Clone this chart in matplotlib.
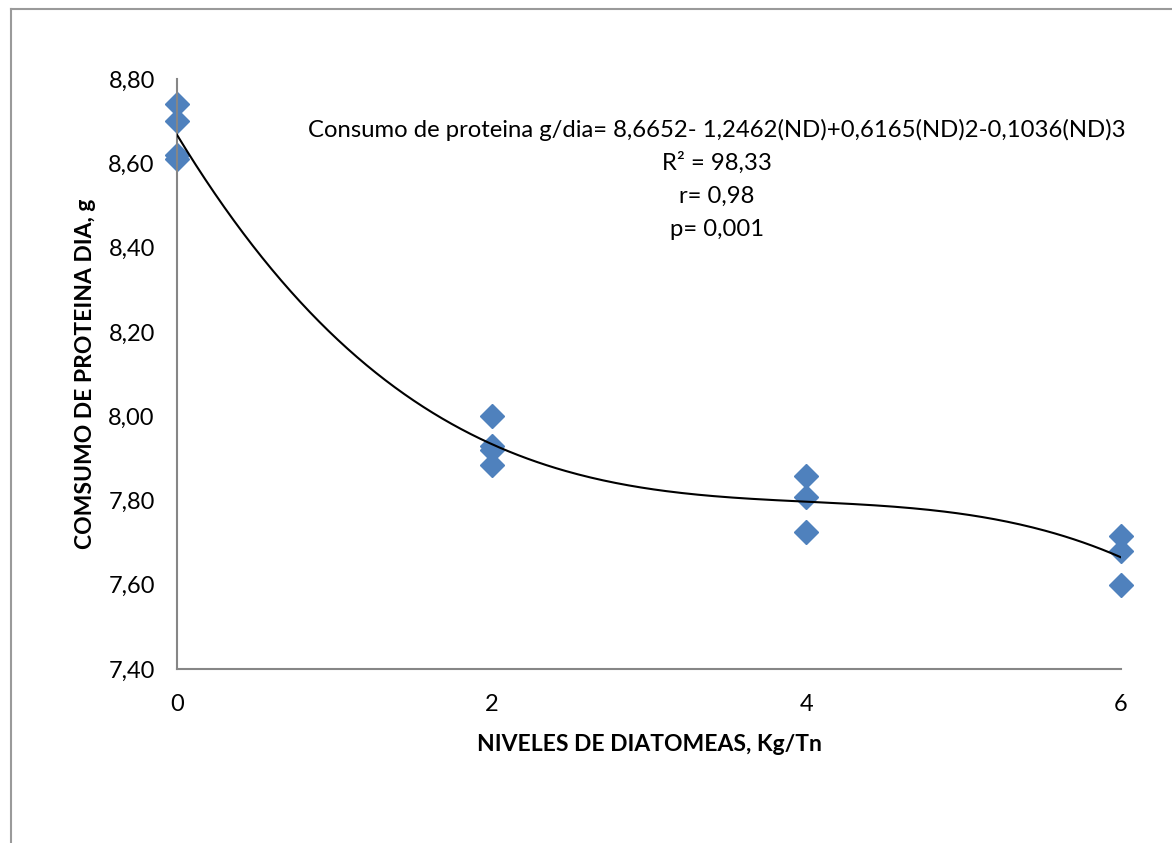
import numpy as np
import matplotlib.pyplot as plt
from matplotlib.lines import Line2D
from matplotlib.ticker import FuncFormatter

plt.rcParams['font.family'] = ['Lato', 'DejaVu Sans']

# Consumo de proteina por nivel de diatomeas
niveles = [0, 0, 0, 0, 2, 2, 2, 2, 4, 4, 4, 6, 6, 6]
consumo = [8.74, 8.70, 8.62, 8.61,
           8.00, 7.93, 7.92, 7.885,
           7.858, 7.808, 7.725,
           7.715, 7.68, 7.60]

y_ticks = [7.40, 7.60, 7.80, 8.00, 8.20, 8.40, 8.60, 8.80]
x_ticks = [0, 2, 4, 6]

eq_lines = ["Consumo de proteina g/dia= 8,6652- 1,2462(ND)+0,6165(ND)2-0,1036(ND)3",
            "R² = 98,33",
            "r= 0,98",
            "p= 0,001"]

W, H = 1172, 843
fig = plt.figure(figsize=(W / 100, H / 100), dpi=100)
ax = fig.add_axes([177 / W, 1 - 669 / H, (1121 - 177) / W, (669 - 79) / H])

# tendencia polinomica de grado 3
coef = np.polyfit(niveles, consumo, 3)
xs = np.linspace(0, 6, 300)
ax.plot(xs, np.polyval(coef, xs), color='black', lw=1.5, zorder=3)

ax.plot(niveles, consumo, linestyle='none', marker='D', markersize=12,
        color='#4F81BD', markeredgecolor='#4F81BD', zorder=2, clip_on=False)

ax.set_xlim(0, 6)
ax.set_ylim(7.40, 8.80)
ax.set_xticks(x_ticks)
ax.set_yticks(y_ticks)
ax.yaxis.set_major_formatter(FuncFormatter(lambda v, p: f"{v:.2f}".replace('.', ',')))
ax.tick_params(length=0, labelsize=17)
ax.tick_params(axis='y', pad=16)
ax.tick_params(axis='x', pad=18)

for s in ['top', 'right']:
    ax.spines[s].set_visible(False)
for s in ['left', 'bottom']:
    ax.spines[s].set_color('#868686')
    ax.spines[s].set_linewidth(1.5)

ax.set_xlabel("NIVELES DE DIATOMEAS, Kg/Tn", fontsize=16.5, fontweight='bold', labelpad=14)
ax.set_ylabel("COMSUMO DE PROTEINA DIA, g", fontsize=16.5, fontweight='bold', labelpad=9)

for i, t in enumerate(eq_lines):
    fig.text(717 / W, 1 - (130 + 33 * i) / H, t, fontsize=17.2, ha='center', va='center')

# marco del grafico
fig.add_artist(Line2D([11 / W, 1], [1 - 8.5 / H, 1 - 8.5 / H], color='#9a9a9a', lw=1.5))
fig.add_artist(Line2D([11 / W, 11 / W], [0, 1 - 8.5 / H], color='#9a9a9a', lw=1.5))

fig.savefig('out.png', dpi=100)
